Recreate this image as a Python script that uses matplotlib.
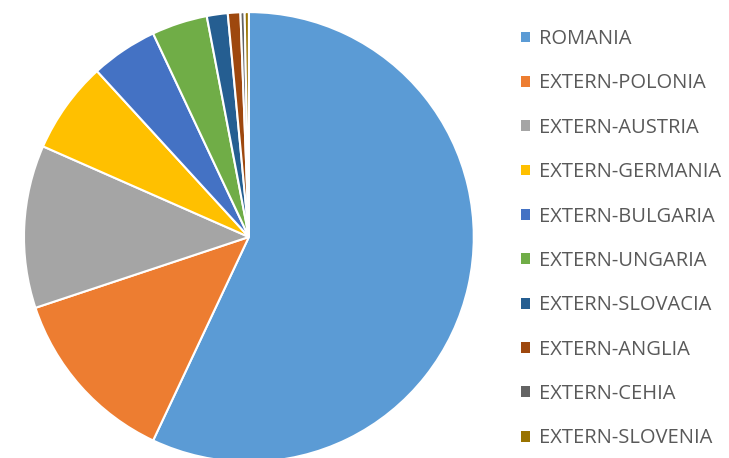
import matplotlib.pyplot as plt

# Share per source (percent)
labels = ['ROMANIA', 'EXTERN-POLONIA', 'EXTERN-AUSTRIA', 'EXTERN-GERMANIA',
          'EXTERN-BULGARIA', 'EXTERN-UNGARIA', 'EXTERN-SLOVACIA',
          'EXTERN-ANGLIA', 'EXTERN-CEHIA', 'EXTERN-SLOVENIA']
values = [57.0, 12.9, 11.7, 6.6, 4.8, 4.0, 1.5, 0.9, 0.3, 0.3]
colors = ['#5B9BD5', '#ED7D31', '#A5A5A5', '#FFC000', '#4472C4',
          '#70AD47', '#255E91', '#9E480E', '#636363', '#997300']

fig = plt.figure(figsize=(7.29, 4.58), dpi=100)
ax = fig.add_axes([0.0329, -0.0087, 0.617, 0.9825])

wedges, _ = ax.pie(values, colors=colors, startangle=90, counterclock=False,
                   wedgeprops=dict(edgecolor='white', linewidth=1.5))
ax.set_xlim(-1, 1)
ax.set_ylim(-1, 1)
ax.set_aspect('equal')

leg = fig.legend(wedges, labels, loc='upper left', bbox_to_anchor=(0.69, 0.976),
                 frameon=False, handlelength=0.45, handleheight=0.45,
                 handletextpad=0.42, labelspacing=1.21, labelcolor='#595959',
                 prop={'family': 'Open Sans', 'size': 14.5})
for h in leg.legend_handles:
    h.set_edgecolor('none')

fig.savefig('out.png', dpi=100)
